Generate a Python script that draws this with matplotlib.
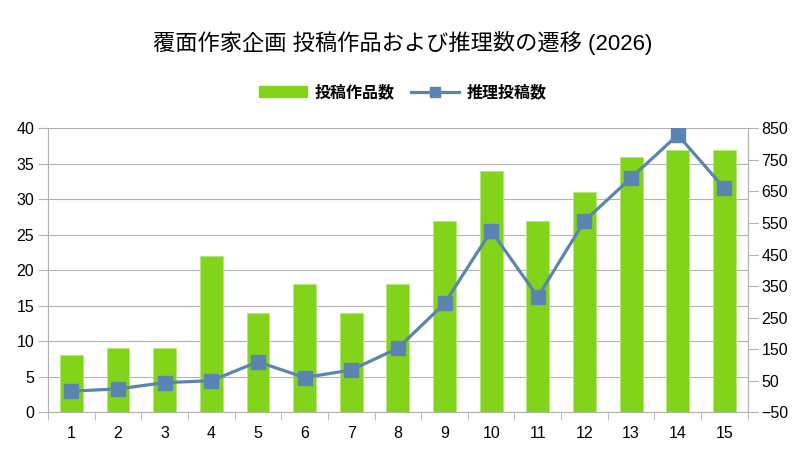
import matplotlib.pyplot as plt
from matplotlib.lines import Line2D
from matplotlib.patches import Patch

plt.rcParams['font.family'] = ['Liberation Sans', 'Noto Sans CJK JP', 'DejaVu Sans']

rounds = list(range(1, 16))
works = [8, 9, 9, 22, 14, 18, 14, 18, 27, 34, 27, 31, 36, 37, 37]
guesses = [17, 24, 44, 50, 110, 60, 84, 153, 295, 525, 316, 556, 693, 829, 660]

green = "#81d41a"
blue = "#5b84b1"
grey = "#b3b3b3"

fig = plt.figure(figsize=(8.06, 4.54), dpi=100)
ax = fig.add_axes([0.0596, 0.0919, 0.8681, 0.6255])
ax2 = ax.twinx()

ax.bar(rounds, works, width=0.49, color=green, edgecolor="#b4e67a", linewidth=0.6, zorder=2)
ax2.plot(rounds, guesses, color=blue, linewidth=2.3, marker="s", markersize=9.5, zorder=3)

ax.set_xlim(0.5, 15.5)
ax.set_ylim(0, 40)
ax.set_yticks(range(0, 41, 5))
ax2.set_ylim(-50, 850)
ax2.set_yticks(range(-50, 851, 100))

ax.set_xticks(rounds)
ax.set_xticks([r + 0.5 for r in range(0, 16)], minor=True)
ax.tick_params(axis="x", which="major", length=0, pad=10, labelsize=11.5)
ax.tick_params(axis="x", which="minor", length=6, color=grey)
ax.tick_params(axis="y", length=7, color=grey, labelsize=11.5, pad=3)
ax2.tick_params(axis="y", length=7, color=grey, labelsize=11.5, pad=3)

ax.grid(axis="y", color=grey, linewidth=0.8, zorder=0)
ax.set_axisbelow(True)
for a in (ax, ax2):
    a.spines["top"].set_visible(False)
    for s in ("left", "right", "bottom"):
        a.spines[s].set_color(grey)
ax2.set_zorder(ax.get_zorder() + 1)
ax2.patch.set_visible(False)

fig.text(0.5, 0.905, "覆面作家企画 投稿作品および推理数の遷移 (2026)",
         ha="center", va="center", fontsize=16,
         family=["Liberation Sans", "Noto Sans CJK JP"])

handles = [Patch(color=green),
           Line2D([], [], color=blue, linewidth=2.3, marker="s", markersize=7)]
fig.legend(handles, ["投稿作品数", "推理投稿数"], loc="center", bbox_to_anchor=(0.5, 0.797),
           ncol=2, frameon=False, handlelength=3.0, columnspacing=1.0, handletextpad=0.5,
           prop={"family": ["Noto Sans CJK JP"], "weight": "bold", "size": 11.5})

fig.savefig("out.png", dpi=100)
